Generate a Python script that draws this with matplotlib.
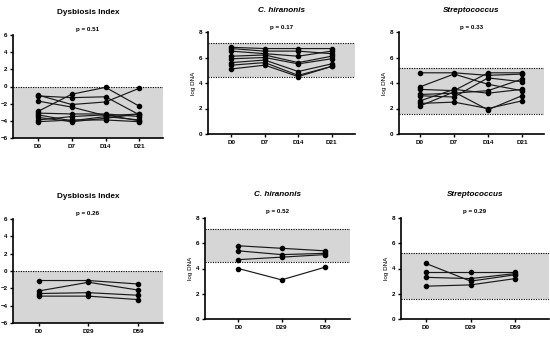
"""Paired sample trajectories: dysbiosis index and qPCR targets over time."""

import matplotlib
matplotlib.use("Agg")
import matplotlib.pyplot as plt

plt.rcParams["font.family"] = ["Liberation Sans", "DejaVu Sans"]

# ---- data -------------------------------------------------------------
days_a = ["D0", "D7", "D14", "D21"]
days_b = ["D0", "D29", "D59"]

di_a = [
    [-2.9, -0.9, -0.1, -2.3],
    [-1.1, -1.3, -1.2, -3.3],
    [-1.0, -2.1, -1.8, -0.2],
    [-1.7, -2.4, -3.4, -3.2],
    [-3.1, -3.2, -3.2, -3.5],
    [-3.3, -4.0, -3.5, -3.9],
    [-3.6, -4.1, -3.7, -3.2],
    [-3.9, -3.5, -3.3, -4.0],
    [-4.1, -3.9, -3.9, -4.1],
]
chir_a = [
    [6.8, 6.7, 6.7, 6.7],
    [6.7, 6.5, 6.5, 6.3],
    [6.5, 6.3, 6.1, 6.5],
    [6.1, 6.2, 5.6, 6.1],
    [5.9, 6.0, 5.5, 5.9],
    [5.6, 5.8, 4.9, 5.5],
    [5.4, 5.6, 4.6, 5.3],
    [5.1, 5.4, 4.5, 5.3],
]
strep_a = [
    [4.8, 4.8, 4.6, 4.7],
    [3.7, 4.7, 3.9, 3.4],
    [3.5, 3.4, 4.8, 4.8],
    [3.1, 3.2, 3.4, 4.3],
    [3.0, 2.9, 4.4, 4.1],
    [2.6, 3.5, 3.2, 3.5],
    [2.4, 2.5, 2.0, 2.6],
    [2.2, 3.3, 1.9, 3.0],
]
di_b = [
    [-1.1, -1.1, -1.5],
    [-2.3, -1.3, -2.2],
    [-2.6, -2.5, -2.8],
    [-2.9, -2.9, -3.3],
]
chir_b = [
    [5.8, 5.6, 5.4],
    [5.4, 5.1, 5.2],
    [4.7, 4.9, 5.1],
    [4.0, 3.1, 4.1],
]
strep_b = [
    [4.4, 3.0, 3.5],
    [3.7, 3.7, 3.7],
    [3.3, 3.2, 3.6],
    [2.6, 2.7, 3.2],
]

# reference intervals (lower, upper)
di_ref = (-6, 0)
chir_ref = (4.5, 7.1)
strep_ref = (1.6, 5.2)

W, H = 550, 339
fig = plt.figure(figsize=(W / 100, H / 100), dpi=100)


def px_axes(left, top, right, bottom):
    return fig.add_axes([left / W, 1 - bottom / H, (right - left) / W, (bottom - top) / H])


def panel(box, days, series, ref, ylim, yticks, xlim, title, pval, italic, ylabel,
          title_y, p_y, dotted_low=True):
    ax = px_axes(*box)
    ax.axhspan(ref[0], ref[1], color="#d6d6d6", zorder=0, lw=0)
    ax.axhline(ref[1], color="black", ls=(0, (1, 1.2)), lw=0.8, zorder=1)
    if dotted_low:
        ax.axhline(ref[0], color="black", ls=(0, (1, 1.2)), lw=0.8, zorder=1)
    x = list(range(len(days)))
    for s in series:
        ax.plot(x, s, color="#1a1a1a", lw=0.85, marker="o", ms=3.0,
                mfc="black", mec="black", zorder=3)
    ax.set_xlim(*xlim)
    ax.set_ylim(*ylim)
    ax.set_yticks(yticks)
    ax.set_xticks(x)
    ax.set_xticklabels(days)
    for side in ("top", "right"):
        ax.spines[side].set_visible(False)
    for side in ("left", "bottom"):
        ax.spines[side].set_linewidth(1.2)
    ax.tick_params(length=2.5, width=1, labelsize=4.5, pad=1.5)
    for lab in ax.get_xticklabels() + ax.get_yticklabels():
        lab.set_fontweight("bold")
    if ylabel:
        ax.set_ylabel(ylabel, fontsize=4.5, labelpad=2)
    cx = (box[0] + box[2]) / 2 / W
    fig.text(cx, 1 - title_y / H, title, ha="center", va="center", fontsize=5.9,
             fontweight="bold", style="italic" if italic else "normal")
    fig.text(cx, 1 - p_y / H, pval, ha="center", va="center", fontsize=4.5,
             fontweight="bold")
    return ax


panel((13, 35, 163, 138), days_a, di_a, di_ref, (-6, 6), range(-6, 7, 2),
      (-0.74, 3.7), "Dysbiosis Index", "p = 0.51", False, None, 12, 29, dotted_low=False)
panel((208, 32, 355, 134), days_a, chir_a, chir_ref, (0, 8), range(0, 9, 2),
      (-0.7, 3.7), "C. hiranonis", "p = 0.17", True, "log DNA", 11, 28)
panel((399, 32, 544, 134), days_a, strep_a, strep_ref, (0, 8), range(0, 9, 2),
      (-0.62, 3.65), "Streptococcus", "p = 0.33", True, "log DNA", 10, 27)

panel((13, 219, 163, 323), days_b, di_b, di_ref, (-6, 6), range(-6, 7, 2),
      (-0.52, 2.5), "Dysbiosis Index", "p = 0.26", False, None, 196, 213, dotted_low=False)
panel((205, 218, 350, 319), days_b, chir_b, chir_ref, (0, 8), range(0, 9, 2),
      (-0.77, 2.58), "C. hiranonis", "p = 0.52", True, "log DNA", 194, 212)
panel((401, 218, 549, 319), days_b, strep_b, strep_ref, (0, 8), range(0, 9, 2),
      (-0.56, 2.76), "Streptococcus", "p = 0.29", True, "log DNA", 194, 211)

fig.savefig("out.png", dpi=100)
